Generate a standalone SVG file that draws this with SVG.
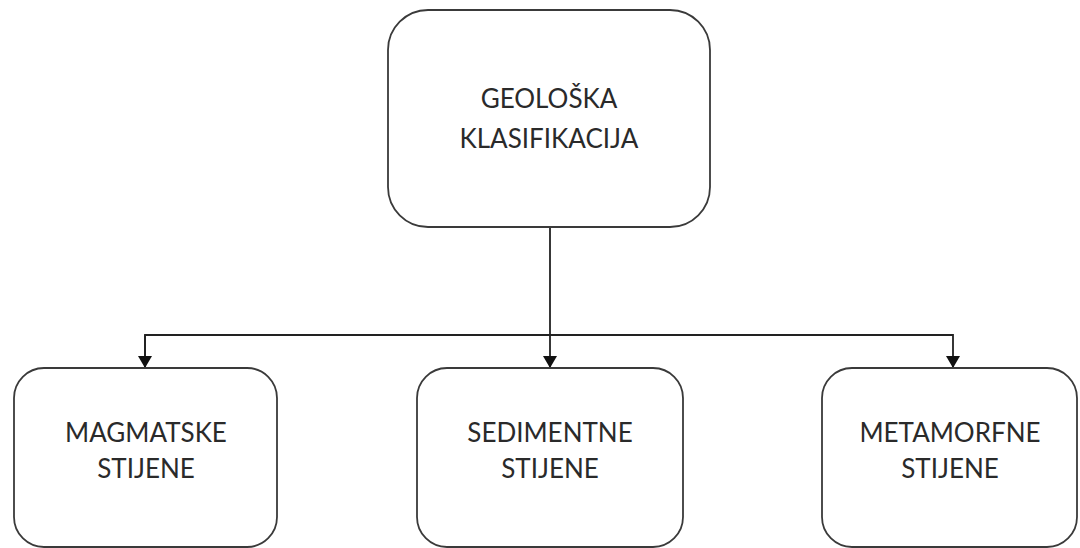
<svg xmlns="http://www.w3.org/2000/svg" width="1080" height="548" viewBox="0 0 1080 548">
<style>
.box{fill:#fff;stroke:#3a3a3a;stroke-width:1.8}
.t{font-family:Lato,"Open Sans",sans-serif;font-size:26px;fill:#2a2a2a;text-anchor:middle}
.c{fill:none;stroke:#222;stroke-width:1.8}
</style>
<defs>
<marker id="ah" viewBox="0 0 12 14" refX="12" refY="7" markerWidth="12" markerHeight="14" markerUnits="userSpaceOnUse" orient="auto">
<path d="M0,0 L12,7 L0,14 z" fill="#111"/>
</marker>
</defs>
<rect width="1080" height="548" fill="#fff"/>
<g id="connectors">
<path class="c" d="M550,227 V368" marker-end="url(#ah)"/>
<path class="c" d="M145,368 V335 H953 V368" marker-end="url(#ah)"/>
<path class="c" d="M145,335 V368" marker-end="url(#ah)"/>
</g>
<g id="root">
<rect class="box" x="388" y="10" width="322" height="217" rx="40"/>
<text class="t" x="549" y="108">GEOLOŠKA</text>
<text class="t" x="549" y="148">KLASIFIKACIJA</text>
</g>
<g id="magmatske">
<rect class="box" x="14" y="368" width="263" height="179" rx="30"/>
<text class="t" x="146" y="442">MAGMATSKE</text>
<text class="t" x="146" y="478">STIJENE</text>
</g>
<g id="sedimentne">
<rect class="box" x="417" y="368" width="266" height="179" rx="30"/>
<text class="t" x="550" y="442">SEDIMENTNE</text>
<text class="t" x="550" y="478">STIJENE</text>
</g>
<g id="metamorfne">
<rect class="box" x="822" y="368" width="255" height="179" rx="30"/>
<text class="t" x="950" y="442">METAMORFNE</text>
<text class="t" x="950" y="478">STIJENE</text>
</g>
</svg>
